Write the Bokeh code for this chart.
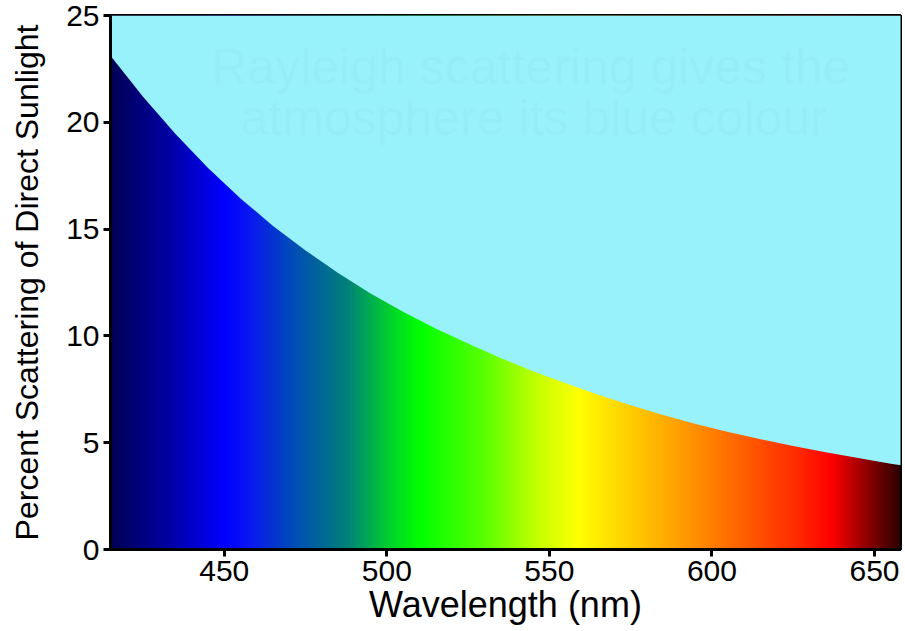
import numpy as np
from bokeh.plotting import figure
from bokeh.models import Range1d, FixedTicker
from bokeh.core.properties import value
from bokeh.embed import file_html
from bokeh.resources import INLINE

# Scattering curve (wavelength nm, percent)
wavelength = [415, 425, 435, 445, 455, 465, 475, 485, 495, 505, 515, 525, 535,
              545, 555, 565, 575, 585, 595, 605, 615, 625, 635, 645, 655, 660]
scattering = [23.12, 21.2, 19.45, 17.86, 16.43, 15.15, 14.0, 12.95, 11.99,
              11.13, 10.35, 9.64, 8.97, 8.35, 7.78, 7.24, 6.75, 6.30, 5.88,
              5.50, 5.16, 4.84, 4.55, 4.28, 4.02, 3.90]

# Spectrum colour stops (wavelength nm -> RGB)
stop_wl = [415, 433, 450, 458, 472, 488, 500, 510, 530, 547, 559, 580, 596,
           627, 637, 648, 658]
stop_r = [0, 0, 0, 10, 0, 0, 0, 0, 90, 200, 255, 255, 255, 255, 255, 140, 45]
stop_g = [0, 0, 0, 25, 80, 130, 205, 255, 255, 255, 255, 190, 140, 40, 0, 0, 0]
stop_b = [85, 165, 255, 240, 180, 120, 50, 0, 0, 0, 0, 0, 0, 0, 0, 0, 0]

x_ticks = [450, 500, 550, 600, 650]
y_ticks = [0, 5, 10, 15, 20, 25]
x_lo, x_hi = 415, 658
y_lo, y_hi = 0, 25

sky = "#98F2FC"
font = "Liberation Sans"

p = figure(width=905, height=631, output_backend="svg", toolbar_location=None,
           x_range=Range1d(x_lo, x_hi), y_range=Range1d(y_lo, y_hi),
           min_border_left=110, min_border_right=5, min_border_top=15,
           min_border_bottom=82)

# spectrum gradient image
ncol = 1000
cols_wl = np.linspace(x_lo, x_hi, ncol)
r = np.interp(cols_wl, stop_wl, stop_r).astype(np.uint32)
g = np.interp(cols_wl, stop_wl, stop_g).astype(np.uint32)
b = np.interp(cols_wl, stop_wl, stop_b).astype(np.uint32)
img = (255 << 24) | (b << 16) | (g << 8) | r
img = img.reshape(1, ncol).astype(np.uint32)
p.image_rgba(image=[img], x=x_lo, y=y_lo, dw=x_hi - x_lo, dh=y_hi - y_lo)

# sky area above the curve
p.varea(x=wavelength, y1=scattering, y2=[y_hi] * len(wavelength),
        fill_color=sky, fill_alpha=1.0)

# faint background wording
p.text(x=[446], y=[22.6], text=["Rayleigh scattering gives the"],
       text_font=value(font), text_font_size="50px", text_color="black",
       text_alpha=0.018, text_baseline="middle")
p.text(x=[455], y=[20.2], text=["atmosphere its blue colour"],
       text_font=value(font), text_font_size="50px", text_color="black",
       text_alpha=0.018, text_baseline="middle")

p.xgrid.visible = False
p.ygrid.visible = False
p.background_fill_color = sky
p.border_fill_color = "white"
p.outline_line_color = "black"
p.outline_line_width = 3

p.xaxis.ticker = FixedTicker(ticks=x_ticks)
p.yaxis.ticker = FixedTicker(ticks=y_ticks)
for ax in (p.xaxis, p.yaxis):
    ax.axis_line_width = 3
    ax.axis_line_color = "black"
    ax.major_tick_line_width = 3
    ax.major_tick_line_color = "black"
    ax.major_tick_out = 7
    ax.major_tick_in = 0
    ax.minor_tick_line_color = None
    ax.major_label_text_font = font
    ax.major_label_text_font_size = "30px"
    ax.major_label_text_color = "black"
    ax.axis_label_text_font = font
    ax.axis_label_text_font_style = "normal"
    ax.axis_label_text_color = "black"

p.xaxis.axis_label = "Wavelength (nm)"
p.yaxis.axis_label = "Percent Scattering of Direct Sunlight"
p.xaxis.axis_label_text_font_size = "36px"
p.yaxis.axis_label_text_font_size = "32px"
p.xaxis.major_label_standoff = 4
p.xaxis.axis_label_standoff = 0
p.yaxis.major_label_standoff = 4
p.yaxis.axis_label_standoff = 18

open("out.html", "w").write(file_html(p, INLINE))
